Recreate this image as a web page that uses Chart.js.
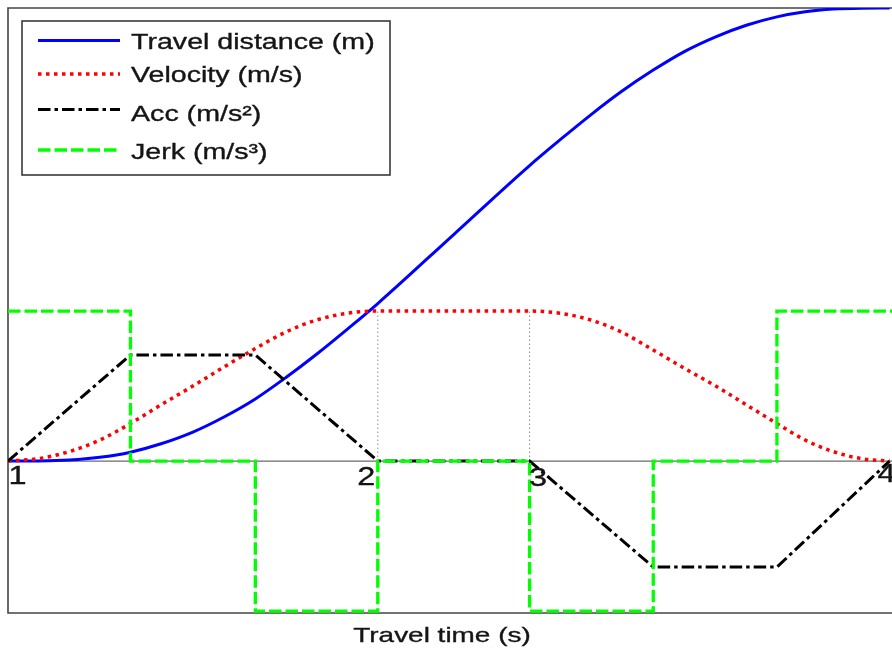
<!DOCTYPE html>
<html>
<head>
<meta charset="utf-8">
<script src="https://cdn.jsdelivr.net/npm/chart.js@4/dist/chart.umd.min.js"></script>
<style>
  html, body { margin: 0; padding: 0; background: #ffffff; overflow: hidden; }
  #wrap { width: 892px; height: 649px; }
</style>
</head>
<body>
<div id="wrap"><canvas id="c" width="892" height="649"></canvas></div>
<script>
// ---- data ----
const breakTimes = [0, 1, 2.02, 3.02, 4.26, 5.27, 6.28, 7.2];
const accValues  = [0, 0.707, 0.707, 0, 0, -0.707, -0.707, 0];
const jerkTimes  = [0, 1, 2.02, 3.02, 4.26, 5.27, 6.28, 7.22];
const jerkValues = [1, 0, -1, 0, -1, 0, 1, 1];

const timeSamples = [0, 0.25, 0.5, 0.75, 1, 1.25, 1.51, 1.76, 2.02, 2.27, 2.52, 2.77, 3.02, 3.64,
                     4.26, 4.51, 4.76, 5.01, 5.27, 5.52, 5.78, 6.03, 6.28, 6.51, 6.74, 6.97, 7.2];
const distanceValues = [0, 0.001, 0.007, 0.025, 0.059, 0.115, 0.193, 0.292, 0.414, 0.557, 0.712, 0.878, 1.05, 1.51,
                        1.97, 2.142, 2.308, 2.463, 2.606, 2.728, 2.828, 2.905, 2.961, 2.995, 3.013, 3.019, 3.02];
const velocityValues = [0, 0.016, 0.063, 0.14, 0.25, 0.375, 0.5, 0.625, 0.75, 0.86, 0.94, 0.985, 1.0, 1.0,
                        1.0, 0.985, 0.94, 0.86, 0.74, 0.62, 0.5, 0.375, 0.25, 0.14, 0.063, 0.016, 0];

const seriesLabels = ['Travel distance (m)', 'Velocity (m/s)', 'Acc (m/s²)', 'Jerk (m/s³)'];
const pointLabels = ['1', '2', '3', '4'];
const pointLabelTimes = [0, 3.02, 4.26, 7.2];
const guideTimes = [3.02, 4.26];
const xAxisTitle = 'Travel time (s)';

// ---- build datasets ----
const toXY = (xs, ys) => xs.map((x, i) => ({ x: x, y: ys[i] }));
const vPeak = Math.max(...velocityValues);

const datasets = [
  { label: seriesLabels[0], data: toXY(timeSamples, distanceValues), borderColor: '#0000ff',
    borderWidth: 3, cubicInterpolationMode: 'monotone', order: 4, legend: true },
  { label: seriesLabels[1], data: toXY(timeSamples, velocityValues), borderColor: '#ff0000',
    borderWidth: 3.5, borderDash: [3.5, 4.5], cubicInterpolationMode: 'monotone', order: 3, legend: true },
  { label: seriesLabels[2], data: toXY(breakTimes, accValues), borderColor: '#000000',
    borderWidth: 3, borderDash: [12.5, 4, 3.5, 4], tension: 0, order: 2, legend: true },
  { label: seriesLabels[3], data: toXY(jerkTimes, jerkValues), borderColor: '#00ff00',
    borderWidth: 3.3, borderDash: [12.5, 4], stepped: 'before', order: 1, legend: true }
];
guideTimes.forEach((t) => {
  datasets.push({ label: 'guide', data: [{ x: t, y: 0 }, { x: t, y: vPeak }], borderColor: '#8a8a8a',
    borderWidth: 1, borderDash: [1.5, 2.5], order: 9, legend: false });
});
datasets.forEach(d => { d.pointRadius = 0; d.fill = false; d.borderCapStyle = 'butt'; });

const FONT = "'Liberation Sans', Arial, Helvetica, sans-serif";

function stretchedText(ctx, text, x, y, size, sx, align) {
  ctx.save();
  ctx.font = size + 'px ' + FONT;
  ctx.textAlign = align;
  ctx.textBaseline = 'alphabetic';
  ctx.fillStyle = '#151515';
  ctx.strokeStyle = '#151515';
  ctx.lineWidth = 0.35;
  ctx.translate(x, y);
  ctx.scale(sx, 1);
  ctx.fillText(text, 0, 0);
  ctx.strokeText(text, 0, 0);
  ctx.restore();
}

const framePlugin = {
  id: 'frame',
  beforeDatasetsDraw(chart) {
    const { ctx, chartArea: a, scales } = chart;
    ctx.save();
    const y0 = scales.y.getPixelForValue(0);
    ctx.strokeStyle = '#6a6a6a';
    ctx.lineWidth = 1.3;
    ctx.beginPath();
    ctx.moveTo(a.left, y0);
    ctx.lineTo(a.right, y0);
    ctx.stroke();
    ctx.strokeStyle = '#444444';
    ctx.lineWidth = 1.6;
    ctx.beginPath();
    ctx.moveTo(a.right + 2, a.top);
    ctx.lineTo(a.left, a.top);
    ctx.lineTo(a.left, a.bottom);
    ctx.lineTo(a.right + 2, a.bottom);
    ctx.stroke();
    ctx.restore();
  },
  afterDraw(chart) {
    const { ctx, scales } = chart;
    const offs = [[9.5, 23], [-11.5, 24], [8.5, 25], [-3, 21]];
    pointLabels.forEach((lab, i) => {
      const px = scales.x.getPixelForValue(pointLabelTimes[i]) + offs[i][0];
      const py = scales.y.getPixelForValue(0) + offs[i][1];
      stretchedText(ctx, lab, px, py, 25, 1.3, 'center');
    });
    stretchedText(ctx, xAxisTitle, 442, 642, 21, 1.33, 'center');

    ctx.save();
    const bx = 22, by = 21, bw = 368, bh = 154;
    ctx.fillStyle = '#ffffff';
    ctx.fillRect(bx, by, bw, bh);
    ctx.strokeStyle = '#3a3a3a';
    ctx.lineWidth = 1.6;
    ctx.strokeRect(bx, by, bw, bh);
    const lineY = [40.5, 74, 109.5, 150];
    const textY = [48.5, 82, 121, 159];
    const legendSets = chart.data.datasets.filter(d => d.legend);
    legendSets.forEach((d, i) => {
      ctx.save();
      ctx.strokeStyle = d.borderColor;
      ctx.lineWidth = d.borderWidth;
      ctx.setLineDash(d.borderDash || []);
      ctx.beginPath();
      ctx.moveTo(38, lineY[i]);
      ctx.lineTo(120, lineY[i]);
      ctx.stroke();
      ctx.restore();
      stretchedText(ctx, d.label, 131, textY[i], 22, 1.3, 'left');
    });
    ctx.restore();
  }
};

new Chart(document.getElementById('c'), {
  type: 'line',
  data: { datasets: datasets },
  options: {
    responsive: false,
    devicePixelRatio: 1,
    animation: false,
    layout: { padding: { left: 8, top: 8, right: 0, bottom: 36 } },
    plugins: { legend: { display: false }, tooltip: { enabled: false }, title: { display: false } },
    scales: {
      x: { type: 'linear', min: 0, max: 7.22, display: false },
      y: { type: 'linear', min: -1.013, max: 3.02, display: false }
    }
  },
  plugins: [framePlugin]
});
</script>
</body>
</html>
